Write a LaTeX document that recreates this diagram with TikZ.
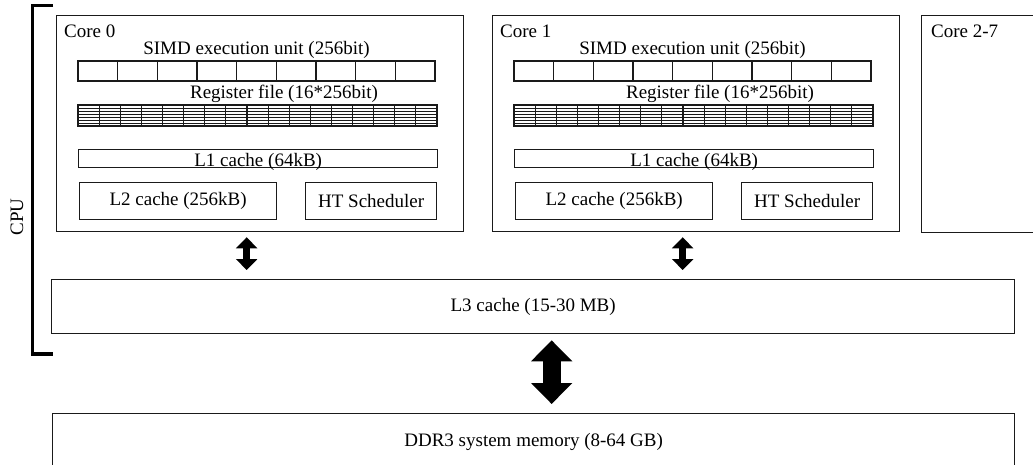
\documentclass[tikz,border=0pt]{standalone}
\usepackage{fontspec}
\setmainfont{Liberation Serif}
\usetikzlibrary{arrows.meta,calc}
\definecolor{cpuInk}{HTML}{1A1A1A}
\tikzset{
  cpu box/.style={draw=cpuInk, line width=1.3pt, inner sep=0pt, anchor=north west},
  cpu cell/.style={draw=cpuInk, line width=1.1pt},
  cpu grid/.style={draw=cpuInk, line width=0.8pt},
  cpu text/.style={font=\fontsize{19}{22}\selectfont, inner sep=0pt},
  cpu link/.style={draw=black, line width=7pt, {Triangle[width=21pt,length=11pt]}-{Triangle[width=21pt,length=11pt]}},
  cpu bus/.style={draw=black, line width=18pt, {Triangle[width=40pt,length=21pt]}-{Triangle[width=40pt,length=21pt]}},
}

\begin{document}
\begin{tikzpicture}[x=1pt, y=-1pt]
  \useasboundingbox (0,0) rectangle (1033,465);
  \clip (0,0) rectangle (1033,465);

  % Core 0 and Core 1 share one layout
  \foreach \c/\dx in {0/0, 1/436} {
    \begin{scope}[xshift=\dx pt]
      \node[cpu box, minimum width=407pt, minimum height=216pt] (core\c) at (56,15) {};
      \node[cpu text, anchor=base west] (core\c-name) at (64,38) {Core \c};

      % SIMD lanes
      \node[cpu text, anchor=base] (simd\c) at (256.5,55) {SIMD execution unit (256bit)};
      \foreach \k in {0,...,8}
        \draw[cpu cell] ({78+\k*39.67},61) rectangle ({78+(\k+1)*39.67},81);

      % register file grid
      \node[cpu text, anchor=base] (reg\c) at (284,99) {Register file (16*256bit)};
      \foreach \r in {1,...,6}
        \draw[cpu grid] (78,{105+\r*3}) -- (437,{105+\r*3});
      \foreach \k in {1,...,16}
        \draw[cpu cell] ({78+\k*21.12},105) -- ({78+\k*21.12},126);
      \draw[cpu cell] (78,105) rectangle (437,126);

      % caches
      \node[cpu box, minimum width=359pt, minimum height=18pt] (l1\c) at (78,149) {};
      \node[cpu text, anchor=base] (l1\c-name) at ($(l1\c.south)+(0,-2)$) {L1 cache (64kB)};
      \node[cpu box, cpu text, minimum width=197pt, minimum height=37pt] (l2\c) at (79,182) {L2 cache (256kB)};
      \node[cpu box, cpu text, minimum width=131pt, minimum height=37pt] (ht\c) at (305,182) {HT Scheduler};
    \end{scope}
  }

  % the remaining cores
  \node[cpu box, minimum width=130pt, minimum height=217pt] (core27) at (921,15) {};
  \node[cpu text, anchor=base west] (core27-name) at (931,38) {Core 2-7};

  \node[cpu box, cpu text, minimum width=963pt, minimum height=54pt] (l3) at (51,279) {L3 cache (15-30 MB)};
  \node[cpu box, cpu text, minimum width=962pt, minimum height=56pt] (ddr) at (52,413) {DDR3 system memory (8-64 GB)};

  % core <-> L3 and L3 <-> memory
  \foreach \c in {0,1}
    \draw[cpu link, shorten <=5pt, shorten >=9pt] ($(core\c.south)+(-13.5,0)$) -- ($(core\c.south |- l3.north)+(-13.5,0)$);
  \draw[cpu bus, shorten <=6pt, shorten >=9pt] ($(l3.south)+(18.5,0)$) -- ($(l3.south |- ddr.north)+(18.5,0)$);

  % CPU bracket
  \node[cpu text, rotate=90] (cpu) at (17,217) {CPU};
  \draw[line width=3.5pt] (53,5.5) -| (32.5,354) -- (53,354);
\end{tikzpicture}
\end{document}
